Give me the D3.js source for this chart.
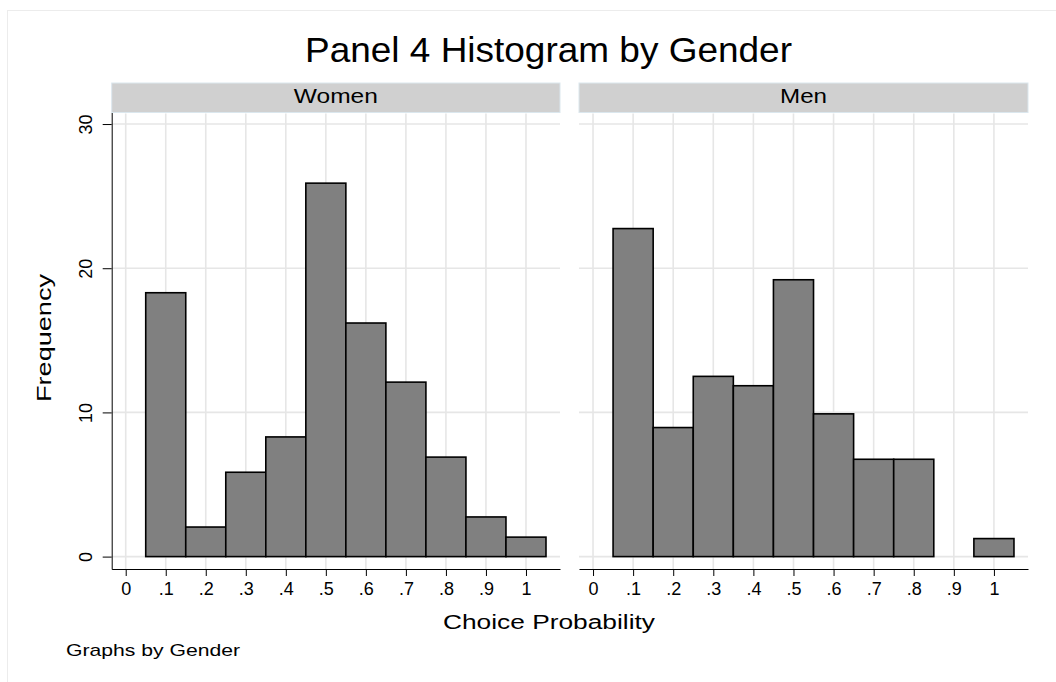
<!DOCTYPE html>
<html>
<head>
<meta charset="utf-8">
<script src="https://cdn.jsdelivr.net/npm/d3@7"></script>
<style>
  body { margin: 0; background: #fff; }
  text { font-family: "Liberation Sans", Arial, Helvetica, sans-serif; fill: #000; }
</style>
</head>
<body>
<div id="chart"></div>
<script>
// histogram bins (centres), width .1
const binCenters = [0.1, 0.2, 0.3, 0.4, 0.5, 0.6, 0.7, 0.8, 0.9, 1.0];
const women = [18.3, 2.05, 5.85, 8.3, 25.9, 16.2, 12.1, 6.9, 2.75, 1.35];
const men = [22.75, 8.95, 12.5, 11.85, 19.2, 9.9, 6.75, 6.75, 0, 1.25];
const panelNames = ["Women", "Men"];

const xTicks = [0, 0.1, 0.2, 0.3, 0.4, 0.5, 0.6, 0.7, 0.8, 0.9, 1];
const xTickLabels = ["0", ".1", ".2", ".3", ".4", ".5", ".6", ".7", ".8", ".9", "1"];
const yTicks = [0, 10, 20, 30];

const binWidth = 0.1;
const W = 1056, H = 682;

// plot region
const plotTop = 112.5, plotBottom = 569;
const stripTop = 83;
const panels = [
  {name: panelNames[0], values: women, x0: 111.7, x1: 560, yAxis: true, labelLen: 84},
  {name: panelNames[1], values: men, x0: 579, x1: 1028, yAxis: false, labelLen: 47}
];

const y = d3.scaleLinear()
      .domain([-0.86, 30.8])
      .range([plotBottom, plotTop]);

const svg = d3.select("#chart")
      .append("svg")
      .attr("width", W)
      .attr("height", H);

// faint outer frame
svg.append("rect")
  .attr("x", 7.5).attr("y", 10.5)
  .attr("width", 1100).attr("height", 700)
  .attr("fill", "#fff")
  .attr("stroke", "#ececec");

// stata's helvetica runs wider than liberation sans, so stretch titles a bit
const label = (x, y, size, len, txt) =>
  svg.append("text")
    .attr("x", x).attr("y", y)
    .attr("text-anchor", "middle")
    .attr("textLength", len)
    .attr("lengthAdjust", "spacingAndGlyphs")
    .style("font-size", size + "px")
    .text(txt);

label(548.5, 61.5, 35, 487, "Panel 4 Histogram by Gender");

const drawPanel = (p) => {
  const x = d3.scaleLinear()
        .domain([-0.035, 1.085])
        .range([p.x0, p.x1]);

  // strip
  svg.append("rect")
    .attr("x", p.x0).attr("y", stripTop)
    .attr("width", p.x1 - p.x0).attr("height", plotTop - stripTop)
    .attr("fill", "#d0d0d0")
    .attr("stroke", "#dbe7ee");
  label((p.x0 + p.x1) / 2, 102.5, 20, p.labelLen, p.name);

  // grid
  const grid = svg.append("g").attr("stroke", "#e6e6e6").attr("stroke-width", 1.6);
  grid.selectAll(".vg")
    .data(xTicks)
    .enter()
    .append("line")
    .attr("x1", d => x(d)).attr("x2", d => x(d))
    .attr("y1", plotTop + 1).attr("y2", plotBottom);
  grid.selectAll(".hg")
    .data(yTicks)
    .enter()
    .append("line")
    .attr("x1", p.x0).attr("x2", p.x1)
    .attr("y1", d => y(d)).attr("y2", d => y(d));

  // bars
  const bars = binCenters.map((c, i) => ({c, v: p.values[i]})).filter(d => d.v > 0);
  svg.selectAll(null)
    .data(bars)
    .enter()
    .append("rect")
    .attr("x", d => x(d.c - binWidth / 2))
    .attr("y", d => y(d.v))
    .attr("width", d => x(d.c + binWidth / 2) - x(d.c - binWidth / 2))
    .attr("height", d => y(0) - y(d.v))
    .attr("fill", "#808080")
    .attr("stroke", "#000")
    .attr("stroke-width", 1.6);

  // x axis
  const xAxis = d3.axisBottom(x)
        .tickValues(xTicks)
        .tickFormat((d, i) => xTickLabels[i])
        .tickSize(7)
        .tickSizeOuter(0)
        .tickPadding(6);
  const gx = svg.append("g")
        .attr("transform", "translate(0," + plotBottom + ")")
        .call(xAxis);
  gx.selectAll("text").style("font-size", "18px").attr("fill", "#000");
  gx.selectAll("line, path").attr("stroke", "#000");

  if (p.yAxis) {
    const yAxis = d3.axisLeft(y)
          .tickValues(yTicks)
          .tickSize(9)
          .tickSizeOuter(0);
    const gy = svg.append("g")
          .attr("transform", "translate(" + p.x0 + ",0)")
          .call(yAxis);
    gy.selectAll("line, path").attr("stroke", "#000");
    gy.selectAll("text")
      .attr("x", 0).attr("dy", null)
      .attr("text-anchor", "middle")
      .attr("transform", "translate(-20,0) rotate(-90)")
      .attr("fill", "#000")
      .style("font-size", "18px");
  }
};

panels.forEach(drawPanel);

// axis titles and note
label(0, 0, 20, 128, "Frequency")
  .attr("transform", "translate(51,338) rotate(-90)");

label(549, 629.3, 20, 212, "Choice Probability");

svg.append("text")
  .attr("x", 66).attr("y", 655.5)
  .attr("textLength", 174)
  .attr("lengthAdjust", "spacingAndGlyphs")
  .style("font-size", "17px")
  .text("Graphs by Gender");
</script>
</body>
</html>
